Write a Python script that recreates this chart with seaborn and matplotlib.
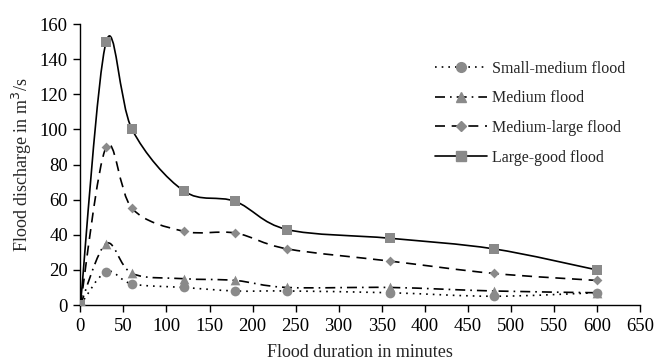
import numpy as np
import pandas as pd
import seaborn as sns
import matplotlib.pyplot as plt
from matplotlib.path import Path
from matplotlib.patches import PathPatch
from matplotlib.lines import Line2D

minutes = [0, 30, 60, 120, 180, 240, 360, 480, 600]
small_medium = [0, 19, 12, 10, 8, 8, 7, 5, 7]
medium = [0, 35, 18, 15, 14, 10, 10, 8, 7]
medium_large = [0, 90, 55, 42, 41, 32, 25, 18, 14]
large_good = [0, 150, 100, 65, 59, 43, 38, 32, 20]

series_names = ['Small-medium flood', 'Medium flood', 'Medium-large flood', 'Large-good flood']
series_values = [small_medium, medium, medium_large, large_good]
markers = ['o', '^', 'D', 's']
marker_sizes = [7, 7, 5, 7]
dashes = [(0, (1, 3)), (0, (6, 3, 1, 3)), (0, (6, 4)), '-']
grey = '#8a8a8a'

df = pd.DataFrame({
    'minutes': minutes * 4,
    'flow': sum(series_values, []),
    'series': sum([[n] * len(minutes) for n in series_names], []),
})


def smooth_path(x, y):
    # Excel-style smoothed line: cubic bezier through the data points
    pts = np.column_stack([x, y]).astype(float)
    verts = [pts[0]]
    codes = [Path.MOVETO]
    n = len(pts)
    for i in range(n - 1):
        p0 = pts[max(i - 1, 0)]
        p1 = pts[i]
        p2 = pts[i + 1]
        p3 = pts[min(i + 2, n - 1)]
        c1 = p1 + (p2 - p0) / 6
        c2 = p2 - (p3 - p1) / 6
        verts += [c1, c2, p2]
        codes += [Path.CURVE4] * 3
    return Path(verts, codes)


sns.set_style('ticks')
plt.rcParams['font.family'] = ['Liberation Serif', 'DejaVu Serif']

fig = plt.figure(figsize=(6.7, 3.64), dpi=100)
ax = fig.add_axes([0.12, 0.162, 0.835, 0.772])

handles = []
for name, vals, m, ms, ls in zip(series_names, series_values, markers, marker_sizes, dashes):
    ax.add_patch(PathPatch(smooth_path(minutes, vals), fill=False,
                           edgecolor='black', linewidth=1.2, linestyle=ls, zorder=2))
    sub = df[df['series'] == name]
    sns.scatterplot(data=sub, x='minutes', y='flow', marker=m, s=ms ** 2,
                    color=grey, edgecolor=grey, linewidth=0, ax=ax, zorder=3, legend=False)
    handles.append(Line2D([], [], color='black', linewidth=1.2, linestyle=ls,
                          marker=m, markersize=ms, markerfacecolor=grey,
                          markeredgecolor=grey))

ax.set_xlim(0, 650)
ax.set_ylim(0, 160)
ax.set_xticks(range(0, 651, 50))
ax.set_yticks(range(0, 161, 20))
ax.tick_params(labelsize=13.5, length=5, width=1, colors='black', pad=4)
for s in ['left', 'bottom']:
    ax.spines[s].set_linewidth(1)
    ax.spines[s].set_color('black')
sns.despine(ax=ax)
ax.set_xlabel('Flood duration in minutes', fontsize=13, labelpad=7)
ax.set_ylabel('Flood discharge in m$^3$/s', fontsize=13, labelpad=4)

ax.legend(handles=handles, labels=series_names, loc='upper right',
          bbox_to_anchor=(1.0, 0.92), frameon=False, fontsize=11.5,
          handlelength=3.3, labelspacing=0.85, handletextpad=0.3)

fig.savefig('out.png', dpi=100)
